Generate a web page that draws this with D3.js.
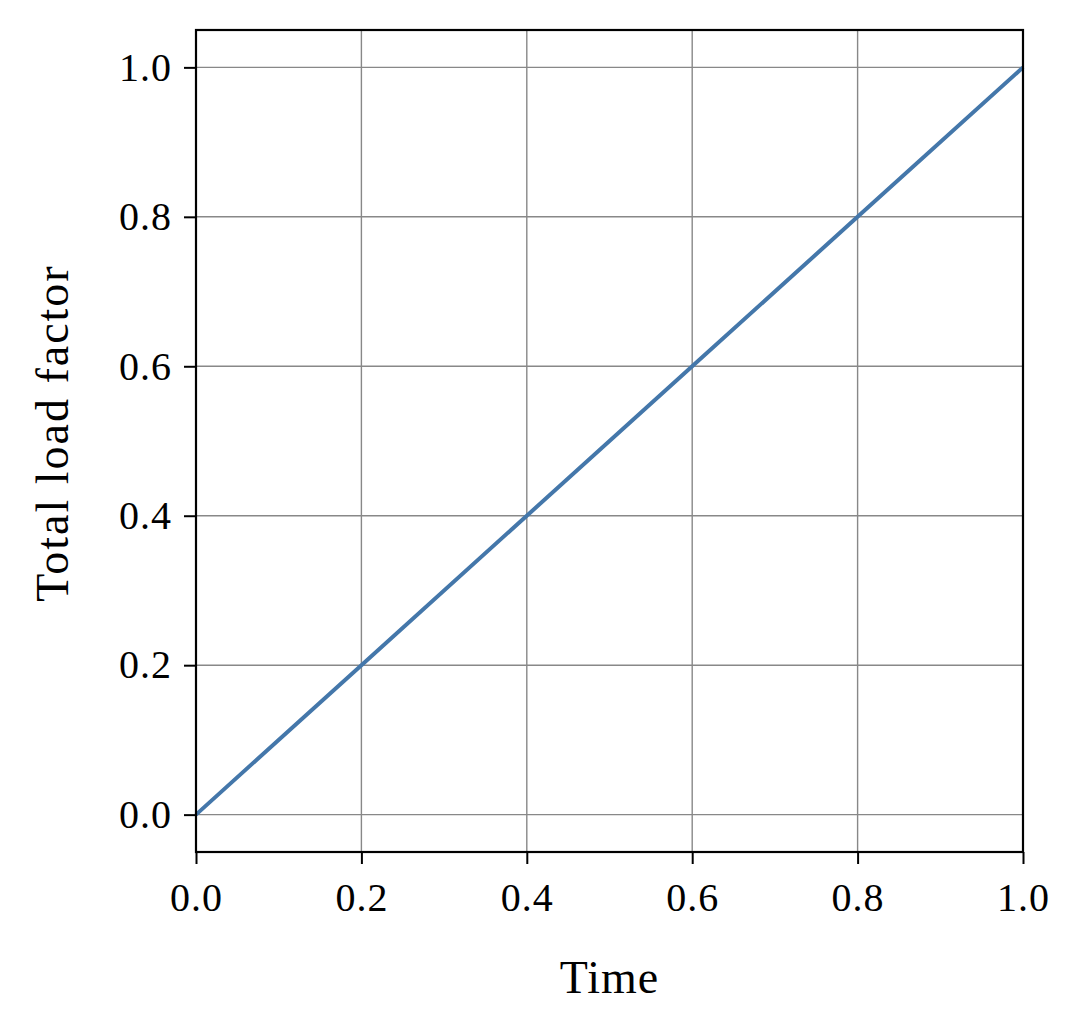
<!DOCTYPE html>
<html>
<head>
<meta charset="utf-8">
<script src="https://cdn.jsdelivr.net/npm/d3@7"></script>
<style>
  body { margin: 0; background: #fff; }
  text { font-family: "Liberation Serif", "DejaVu Serif", serif; fill: #000; }
</style>
</head>
<body>
<svg id="chart" width="1080" height="1032"></svg>
<script>
// data
var timeValues = [0.0, 0.2, 0.4, 0.6, 0.8, 1.0];
var loadValues = [0.0, 0.2, 0.4, 0.6, 0.8, 1.0];
var xTicks = [0.0, 0.2, 0.4, 0.6, 0.8, 1.0];
var yTicks = [0.0, 0.2, 0.4, 0.6, 0.8, 1.0];
var xTitle = "Time";
var yTitle = "Total load factor";

var margin = {top: 30, right: 57, bottom: 180, left: 196};
var svg = d3.select("#chart"),
    width = 1080 - margin.left - margin.right,
    height = 1032 - margin.top - margin.bottom;

var g = svg.append("g")
    .attr("transform", "translate(" + margin.left + "," + margin.top + ")");

var x = d3.scaleLinear().domain([0, 1]).range([0, width]);
var y = d3.scaleLinear().domain([-0.05, 1.05]).range([height, 0]);

// grid
g.append("g").selectAll("line").data(xTicks).enter().append("line")
    .attr("x1", function(d) { return x(d); })
    .attr("x2", function(d) { return x(d); })
    .attr("y1", 0).attr("y2", height)
    .attr("stroke", "#888").attr("stroke-width", 1.4);
g.append("g").selectAll("line").data(yTicks).enter().append("line")
    .attr("y1", function(d) { return y(d); })
    .attr("y2", function(d) { return y(d); })
    .attr("x1", 0).attr("x2", width)
    .attr("stroke", "#888").attr("stroke-width", 1.4);

// axes
var xAxis = g.append("g")
    .attr("transform", "translate(0," + height + ")")
    .call(d3.axisBottom(x).tickValues(xTicks).tickFormat(d3.format(".1f"))
          .tickSize(12).tickPadding(19).tickSizeOuter(0));
var yAxis = g.append("g")
    .call(d3.axisLeft(y).tickValues(yTicks).tickFormat(d3.format(".1f"))
          .tickSize(12).tickPadding(12).tickSizeOuter(0));

[xAxis, yAxis].forEach(function(a) {
  a.attr("font-family", null).attr("font-size", null);
  a.select(".domain").remove();
  a.selectAll(".tick line").attr("stroke", "#000").attr("stroke-width", 2);
  a.selectAll(".tick text")
    .style("font-family", "'Liberation Serif', 'DejaVu Serif', serif")
    .style("font-size", "40px")
    .style("letter-spacing", "1px");
});

// line
var line = d3.line()
    .x(function(d, i) { return x(timeValues[i]); })
    .y(function(d) { return y(d); });
g.append("path")
    .datum(loadValues)
    .attr("fill", "none")
    .attr("stroke", "#4477aa")
    .attr("stroke-width", 4)
    .attr("d", line);

// frame
g.append("rect")
    .attr("x", 0).attr("y", 0)
    .attr("width", width).attr("height", height)
    .attr("fill", "none")
    .attr("stroke", "#000")
    .attr("stroke-width", 2.2);

// titles
g.append("text")
    .attr("x", width / 2)
    .attr("y", height + 141)
    .style("text-anchor", "middle")
    .style("font-size", "46px")
    .style("letter-spacing", "1px")
    .text(xTitle);

g.append("text")
    .attr("transform", "rotate(-90)")
    .attr("x", -403)
    .attr("y", -128)
    .style("text-anchor", "middle")
    .style("font-size", "46px")
    .style("letter-spacing", "2px")
    .text(yTitle);
</script>
</body>
</html>
